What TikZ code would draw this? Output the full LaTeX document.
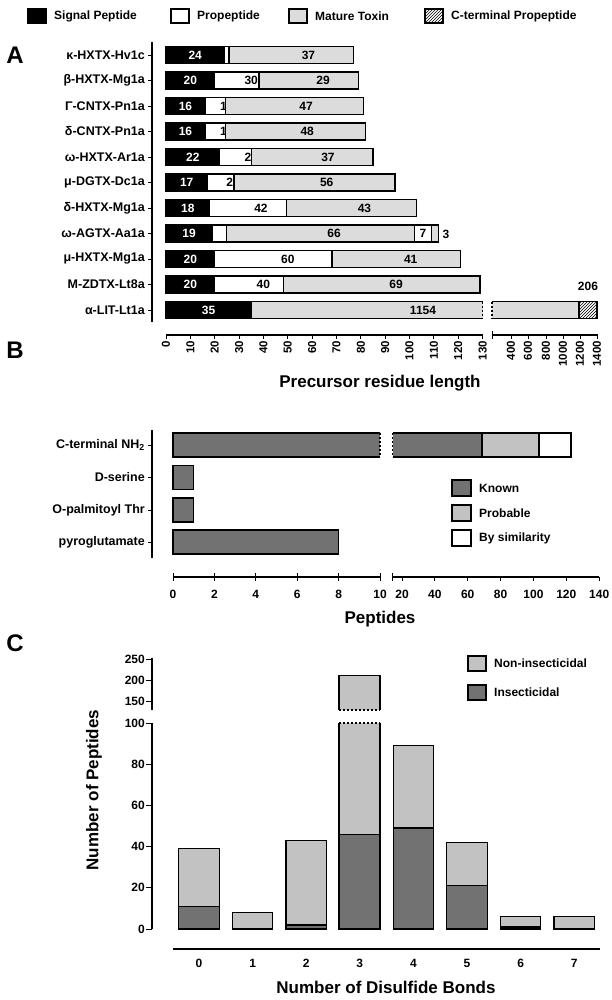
\documentclass[tikz,border=0pt]{standalone}
\usepackage{fontspec}
\setmainfont{Liberation Sans}
\usetikzlibrary{patterns}
\definecolor{lgray}{HTML}{DCDCDC}
\definecolor{mgray}{HTML}{C2C2C2}
\definecolor{dgray}{HTML}{727272}
\newcommand\segA[6]{%
  \draw[barline,fill=#4] ({166+#2*2.435},{#1-8.5}) rectangle ({166+(#2+#3)*2.435},{#1+8.5});
  \node[font=\fontsize{12}{12}\selectfont\bfseries,text=#6] at ({166+(#2+#3/2)*2.435},#1) {#5};}
\newcommand\rowA[5]{% y label a b c
  \node[rowlab] (r#1) at (146,#1) {#2};
  \draw[thick] (148,#1) -- (152,#1);
  \segA{#1}{0}{#3}{black}{#3}{white}
  \segA{#1}{#3}{#4}{white}{#4}{black}
  \segA{#1}{#3+#4}{#5}{lgray}{#5}{black}}
\tikzset{barline/.style={line width=1.3pt},
 rowlab/.style={anchor=east,font=\fontsize{12.5}{13}\selectfont\bfseries,inner sep=1pt},
 ticklab/.style={font=\fontsize{11.5}{12}\selectfont\bfseries,inner sep=1pt},
 axtitle/.style={font=\fontsize{17}{18}\selectfont\bfseries},
 panel/.style={font=\fontsize{24}{24}\selectfont\bfseries},
 leg/.style={font=\fontsize{12}{13}\selectfont\bfseries,anchor=west,inner sep=1pt}}
\begin{document}
\begin{tikzpicture}[x=1pt,y=-1pt]
\useasboundingbox (0,0) rectangle (611,1000);
% Legend A
\draw[barline,fill=black] (28,9) rectangle (46,23);
\node[leg] (l1) at (53,16) {Signal Peptide};
\draw[barline,fill=white] (171,9) rectangle (189,23);
\node[leg] (l2) at (196,16) {Propeptide};
\draw[barline,fill=lgray] (289,9) rectangle (307,23);
\node[leg] (l3) at (314,16) {Mature Toxin};
\draw[barline,pattern=north east lines] (425,9) rectangle (443,23);
\node[leg] (l4) at (450,16) {C-terminal Propeptide};
% Panel A
\node[panel] (pA) at (15,55) {A};
\draw[line width=1.3pt] (152,42) -- (152,322);
\rowA{55}{κ-HXTX-Hv1c}{24}{16}{37}
\rowA{80.5}{β-HXTX-Mg1a}{20}{30}{29}
\rowA{106}{Γ-CNTX-Pn1a}{16}{18}{47}
\rowA{131.5}{δ-CNTX-Pn1a}{16}{18}{48}
\rowA{157}{ω-HXTX-Ar1a}{22}{26}{37}
\rowA{182.5}{μ-DGTX-Dc1a}{17}{21}{56}
\rowA{208}{δ-HXTX-Mg1a}{18}{42}{43}
\rowA{233.5}{ω-AGTX-Aa1a}{19}{17}{66}
\segA{233.5}{102}{7}{white}{7}{black}
\draw[barline,fill=lgray] ({166+109*2.435},225) rectangle ({166+112*2.435},242);
\node[font=\fontsize{12}{12}\selectfont\bfseries] (three) at (446,234) {3};
\rowA{259}{μ-HXTX-Mg1a}{20}{60}{41}
\rowA{284.5}{M-ZDTX-Lt8a}{20}{40}{69}
% alpha-LIT
\node[rowlab] (ra) at (146,310) {α-LIT-Lt1a};
\draw[thick] (148,310) -- (152,310);
\segA{310}{0}{35}{black}{35}{white}
\fill[lgray] (251.2,301.5) rectangle (482.6,318.5);
\draw[barline] (482.6,301.5) -- (251.2,301.5) -- (251.2,318.5) -- (482.6,318.5);
\draw[barline,dashed,dash pattern=on 2pt off 2pt] (482.6,301.5) -- (482.6,318.5);
\node[font=\fontsize{12}{12}\selectfont\bfseries] (n1154) at (423,310) {1154};
\fill[lgray] (492,301.5) rectangle (579,318.5);
\draw[barline] (579,301.5) -- (492,301.5); \draw[barline] (492,318.5) -- (579,318.5);
\draw[barline,dashed,dash pattern=on 2pt off 2pt] (492,301.5) -- (492,318.5);
\draw[barline,pattern=north east lines] (579,301.5) rectangle (597,318.5);
\draw[barline] (579,301.5) -- (579,318.5);
\node[font=\fontsize{12}{12}\selectfont\bfseries] (n206) at (588,286) {206};
% A x axis
\draw[line width=1.3pt] (166,335) -- (482.6,335);
\draw[line width=1.3pt] (492,335) -- (598,335);
\foreach \v in {0,10,...,130}{
  \draw[thick] ({166+\v*2.435},335) -- ({166+\v*2.435},339);
  \node[ticklab,rotate=90,anchor=east] at ({166+\v*2.435},340) {\v};}
\foreach \v/\xx in {400/509,600/531,800/553,1000/575,1200/597}{}
\foreach \v/\xx in {400/508,600/530,800/552,1000/574,1200/596}{}
\foreach \v/\xx in {400/510,600/532,800/553,1000/574,1200/586,1400/597}{}
\foreach \v/\xx in {400/511,600/528,800/546,1000/563,1200/580,1400/597}{
  \draw[thick] (\xx,335) -- (\xx,339);
  \node[ticklab,rotate=90,anchor=east] at (\xx,340) {\v};}
\draw[thick] (492,331) -- (492,339);
\node[axtitle] (tA) at (380,383) {Precursor residue length};
% Panel B
\node[panel] (pB) at (15,350) {B};
\draw[line width=1.3pt] (152,430) -- (152,558);
\foreach \yy/\t in {445/{C-terminal NH\textsubscript{2}},477.5/D-serine,510/O-palmitoyl Thr,542/pyroglutamate}{
  \node[rowlab] at (146,\yy) {\t};
  \draw[thick] (148,\yy) -- (152,\yy);}
\fill[dgray] (173,433) rectangle (380,457);
\draw[barline] (380,433) -- (173,433) -- (173,457) -- (380,457);
\draw[barline,dashed,dash pattern=on 2pt off 2pt] (380,433) -- (380,457);
\fill[dgray] (392.5,433) rectangle (482,457);
\draw[barline] (392.5,433) -- (482,433); \draw[barline] (392.5,457) -- (482,457);
\draw[barline,dashed,dash pattern=on 2pt off 2pt] (392.5,433) -- (392.5,457);
\draw[barline,fill=mgray] (482,433) rectangle (539,457);
\draw[barline,fill=white] (539,433) rectangle (571,457);
\draw[barline,fill=dgray] (173,465.5) rectangle (193.7,489.5);
\draw[barline,fill=dgray] (173,498) rectangle (193.7,522);
\draw[barline,fill=dgray] (173,530) rectangle (338.6,554);
% legend B
\draw[barline,fill=dgray] (452,480) rectangle (471,496);
\node[leg] at (478,488) {Known};
\draw[barline,fill=mgray] (452,505) rectangle (471,521);
\node[leg] at (478,513) {Probable};
\draw[barline,fill=white] (452,530) rectangle (471,546);
\node[leg] at (478,538) {By similarity};
% B axis
\draw[line width=1.3pt] (173,577) -- (380,577);
\draw[line width=1.3pt] (392.5,577) -- (599,577);
\foreach \v in {0,2,...,10}{
  \draw[thick] ({173+\v*20.7},573) -- ({173+\v*20.7},581);
  \node[ticklab,font=\fontsize{12}{12}\selectfont\bfseries] at ({173+\v*20.7},594) {\v};}
\draw[thick] (392.5,573) -- (392.5,581);
\foreach \v in {20,40,...,140}{
  \draw[thick] ({402+(\v-20)*1.643},577) -- ({402+(\v-20)*1.643},581);
  \node[ticklab,font=\fontsize{12}{12}\selectfont\bfseries] at ({402+(\v-20)*1.643},594) {\v};}
\node[axtitle] (tB) at (380,619) {Peptides};
% Panel C
\node[panel] (pC) at (15,643) {C};
\draw[line width=1.3pt] (152,658) -- (152,710);
\draw[line width=1.3pt] (152,723) -- (152,929);
\foreach \v in {150,200,250}{
  \draw[thick] (146,{680-(\v-200)*0.42}) -- (152,{680-(\v-200)*0.42});
  \node[ticklab,anchor=east,font=\fontsize{12}{12}\selectfont\bfseries] at (146,{680-(\v-200)*0.42}) {\v};}
\foreach \v in {0,20,...,100}{
  \draw[thick] (146,{929-\v*2.06}) -- (152,{929-\v*2.06});
  \node[ticklab,anchor=east,font=\fontsize{12}{12}\selectfont\bfseries] at (146,{929-\v*2.06}) {\v};}
\node[axtitle,rotate=90] (tCy) at (94,790) {Number of Peptides};
\foreach \i/\ins/\tot in {0/11/39,1/0/8,2/2/43,4/49/89,5/21/42,6/1/6,7/0/6}{
  \pgfmathsetmacro\cx{199+\i*53.6}
  \draw[barline,fill=mgray] (\cx-20.2,{929-\tot*2.06}) rectangle (\cx+20.2,929);
  \ifnum\ins>0 \draw[barline,fill=dgray] (\cx-20.2,{929-\ins*2.06}) rectangle (\cx+20.2,929);\fi
  \node[ticklab,font=\fontsize{12}{12}\selectfont\bfseries] at (\cx,963) {\i};}
% bar 3
\fill[mgray] (339,723) rectangle (380,929);
\draw[barline] (339,723) -- (339,929) -- (380,929) -- (380,723);
\draw[barline,dashed,dash pattern=on 2pt off 2pt] (339,723) -- (380,723);
\draw[barline,fill=dgray] (339,{929-46*2.06}) rectangle (380,929);
\fill[mgray] (339,710) rectangle (380,{680-10*0.42});
\draw[barline] (339,710) -- (339,{680-10*0.42}) -- (380,{680-10*0.42}) -- (380,710);
\draw[barline,dashed,dash pattern=on 2pt off 2pt] (339,710) -- (380,710);
\node[ticklab,font=\fontsize{12}{12}\selectfont\bfseries] at (359.6,963) {3};
\draw[line width=1.3pt] (173,949) -- (600,949);
\node[axtitle] (tC) at (386,987) {Number of Disulfide Bonds};
% legend C
\draw[barline,fill=mgray] (468,656) rectangle (486,671);
\node[leg] at (493,663) {Non-insecticidal};
\draw[barline,fill=dgray] (468,685) rectangle (486,700);
\node[leg] at (493,692) {Insecticidal};
\end{tikzpicture}
\end{document}
